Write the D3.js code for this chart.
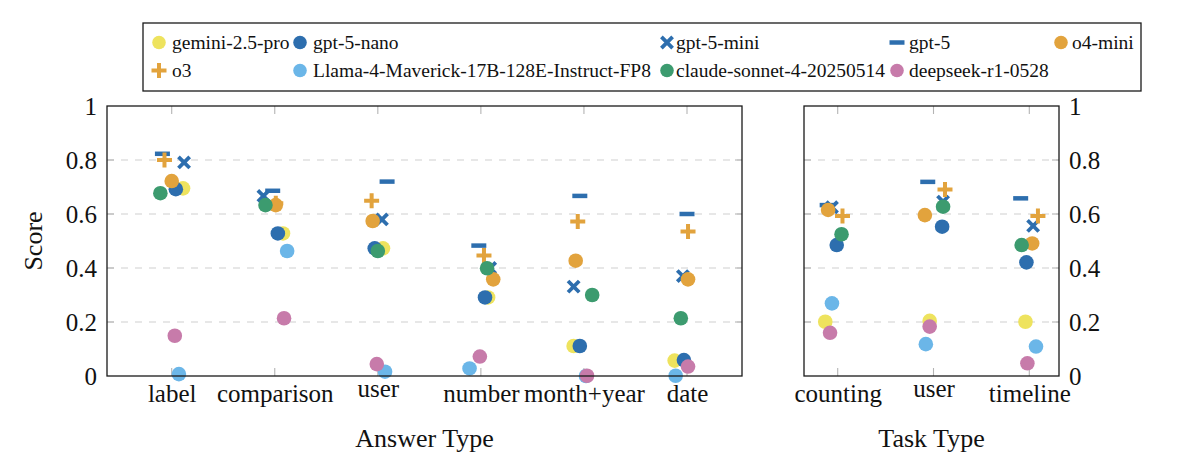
<!DOCTYPE html>
<html><head><meta charset="utf-8">
<script src="https://cdn.jsdelivr.net/npm/d3@7/dist/d3.min.js"></script>
<style>body{margin:0;background:#fff} svg{display:block}</style>
</head><body>
<svg id="c" width="1200" height="470"></svg>
<script>
// ---------------- DATA ----------------
const answerCats = ["label", "comparison", "user", "number", "month+year", "date"];
const taskCats = ["counting", "user", "timeline"];
const modelNames = ["gemini-2.5-pro", "gpt-5-nano", "gpt-5-mini", "gpt-5", "o4-mini",
  "o3", "Llama-4-Maverick-17B-128E-Instruct-FP8", "claude-sonnet-4-20250514", "deepseek-r1-0528"];
const yTickVals = [0, 0.2, 0.4, 0.6, 0.8, 1];
const yTickLabels = ["0", "0.2", "0.4", "0.6", "0.8", "1"];

// Scores per answer type (label, comparison, user, number, month+year, date)
const geminiAnswer   = [0.695, 0.528, 0.473, 0.291, 0.111, 0.057];
const nanoAnswer     = [0.692, 0.528, 0.473, 0.291, 0.111, 0.059];
const miniAnswer     = [0.791, 0.667, 0.580, 0.400, 0.331, 0.370];
const gpt5Answer     = [0.823, 0.686, 0.720, 0.483, 0.667, 0.600];
const o4miniAnswer   = [0.722, 0.633, 0.574, 0.358, 0.427, 0.358];
const o3Answer       = [0.800, 0.640, 0.649, 0.446, 0.572, 0.535];
const llamaAnswer    = [0.007, 0.463, 0.016, 0.028, 0.000, 0.001];
const claudeAnswer   = [0.677, 0.633, 0.463, 0.399, 0.300, 0.214];
const deepseekAnswer = [0.149, 0.214, 0.044, 0.072, 0.001, 0.035];

// Scores per task type (counting, user, timeline)
const geminiTask   = [0.201, 0.204, 0.201];
const nanoTask     = [0.485, 0.553, 0.421];
const miniTask     = [0.625, 0.646, 0.556];
const gpt5Task     = [0.633, 0.719, 0.658];
const o4miniTask   = [0.615, 0.596, 0.491];
const o3Task       = [0.593, 0.691, 0.593];
const llamaTask    = [0.269, 0.118, 0.109];
const claudeTask   = [0.525, 0.627, 0.485];
const deepseekTask = [0.160, 0.183, 0.047];

// Horizontal jitter, in category units
const geminiAnswerJit   = [0.11, 0.08, 0.05, 0.07, -0.10, -0.12];
const nanoAnswerJit     = [0.04, 0.03, -0.03, 0.04, -0.04, -0.03];
const miniAnswerJit     = [0.12, -0.11, 0.04, 0.09, -0.10, -0.04];
const gpt5AnswerJit     = [-0.09, -0.02, 0.09, -0.02, -0.04, 0.00];
const o4miniAnswerJit   = [0.00, 0.01, -0.05, 0.12, -0.08, 0.01];
const o3AnswerJit       = [-0.07, 0.01, -0.06, 0.03, -0.06, 0.01];
const llamaAnswerJit    = [0.07, 0.12, 0.07, -0.11, 0.02, -0.11];
const claudeAnswerJit   = [-0.11, -0.09, 0.00, 0.06, 0.08, -0.06];
const deepseekAnswerJit = [0.03, 0.09, -0.01, -0.01, 0.03, 0.01];

const geminiTaskJit   = [-0.13, -0.04, -0.04];
const nanoTaskJit     = [-0.01, 0.09, -0.03];
const miniTaskJit     = [-0.06, 0.10, 0.04];
const gpt5TaskJit     = [-0.11, -0.06, -0.09];
const o4miniTaskJit   = [-0.10, -0.09, 0.03];
const o3TaskJit       = [0.05, 0.12, 0.09];
const llamaTaskJit    = [-0.06, -0.08, 0.07];
const claudeTaskJit   = [0.04, 0.10, -0.08];
const deepseekTaskJit = [-0.08, -0.04, -0.02];

// ---------------- STYLE ----------------
const BLUE = "#2D6EAE", ORANGE = "#E2A33D";
const styles = [
  {shape: "circle", color: "#EEE35E"},
  {shape: "circle", color: BLUE},
  {shape: "x", color: BLUE},
  {shape: "dash", color: BLUE},
  {shape: "circle", color: ORANGE},
  {shape: "plus", color: ORANGE},
  {shape: "circle", color: "#6BB6E8"},
  {shape: "circle", color: "#3C9B6F"},
  {shape: "circle", color: "#C77BAA"}
];
const answerSeries = [geminiAnswer, nanoAnswer, miniAnswer, gpt5Answer, o4miniAnswer, o3Answer, llamaAnswer, claudeAnswer, deepseekAnswer];
const answerJit = [geminiAnswerJit, nanoAnswerJit, miniAnswerJit, gpt5AnswerJit, o4miniAnswerJit, o3AnswerJit, llamaAnswerJit, claudeAnswerJit, deepseekAnswerJit];
const taskSeries = [geminiTask, nanoTask, miniTask, gpt5Task, o4miniTask, o3Task, llamaTask, claudeTask, deepseekTask];
const taskJit = [geminiTaskJit, nanoTaskJit, miniTaskJit, gpt5TaskJit, o4miniTaskJit, o3TaskJit, llamaTaskJit, claudeTaskJit, deepseekTaskJit];

const FONT = "'Liberation Serif', 'Times New Roman', serif";
const TICK_PX = 25;
const svg = d3.select("#c");
const ctx = document.createElement("canvas").getContext("2d");
function inkAscent(t, px) { ctx.font = px + "px 'Liberation Serif'"; return ctx.measureText(t).actualBoundingBoxAscent; }

const PLOT_TOP = 106, PLOT_BOT = 376;
const y = d3.scaleLinear().domain([0, 1]).range([PLOT_BOT, PLOT_TOP]);

function drawMarker(g, shape, color, cx, cy) {
  if (shape === "circle") {
    g.append("circle").attr("cx", cx).attr("cy", cy).attr("r", 7.3).attr("fill", color);
  } else if (shape === "plus") {
    g.append("path").attr("d", `M${cx-7.5},${cy}H${cx+7.5}M${cx},${cy-7.5}V${cy+7.5}`)
      .attr("stroke", color).attr("stroke-width", 4).attr("fill", "none");
  } else if (shape === "x") {
    const s = 5.6;
    g.append("path").attr("d", `M${cx-s},${cy-s}L${cx+s},${cy+s}M${cx-s},${cy+s}L${cx+s},${cy-s}`)
      .attr("stroke", color).attr("stroke-width", 3.8).attr("fill", "none");
  } else if (shape === "dash") {
    g.append("path").attr("d", `M${cx-7.5},${cy}H${cx+7.5}`)
      .attr("stroke", color).attr("stroke-width", 4.5).attr("fill", "none");
  }
}

function panel(opts) {
  const {x0, x1, first, last, cats, series, jit, ySide, title} = opts;
  const x = d3.scaleLinear().domain([0, cats.length - 1]).range([first, last]);
  const g = svg.append("g");

  // dashed grid
  g.append("g").selectAll("line").data(yTickVals.filter(v => v > 0 && v < 1)).join("line")
    .attr("x1", x0).attr("x2", x1).attr("y1", d => y(d)).attr("y2", d => y(d))
    .attr("stroke", "#cfcfcf").attr("stroke-width", 1.1).attr("stroke-dasharray", "7,7");
  // y tick marks inside both edges
  const tk = g.append("g").attr("stroke", "#b4b4b4").attr("stroke-width", 1.1);
  yTickVals.filter(v => v > 0 && v < 1).forEach(v => {
    tk.append("line").attr("x1", x0).attr("x2", x0 + 7).attr("y1", y(v)).attr("y2", y(v));
    tk.append("line").attr("x1", x1 - 7).attr("x2", x1).attr("y1", y(v)).attr("y2", y(v));
  });
  // x tick marks (top & bottom)
  d3.range(cats.length).forEach(i => {
    tk.append("line").attr("x1", x(i)).attr("x2", x(i)).attr("y1", PLOT_TOP).attr("y2", PLOT_TOP + 8);
    tk.append("line").attr("x1", x(i)).attr("x2", x(i)).attr("y1", PLOT_BOT - 8).attr("y2", PLOT_BOT);
  });

  // marks
  const mg = g.append("g");
  series.forEach((vals, s) => {
    vals.forEach((v, i) => drawMarker(mg, styles[s].shape, styles[s].color, x(i + jit[s][i]), y(v)));
  });

  // frame
  g.append("rect").attr("x", x0).attr("y", PLOT_TOP).attr("width", x1 - x0).attr("height", PLOT_BOT - PLOT_TOP)
    .attr("fill", "none").attr("stroke", "#1a1a1a").attr("stroke-width", 1.3);

  // y axis labels
  const yAxis = (ySide === "left" ? d3.axisLeft(y) : d3.axisRight(y))
    .tickValues(yTickVals).tickFormat((d, i) => yTickLabels[i]).tickSize(0).tickPadding(10);
  const ya = svg.append("g").attr("transform", `translate(${ySide === "left" ? x0 : x1},0)`).call(yAxis);
  ya.select(".domain").remove();
  ya.selectAll("text").attr("font-family", FONT).attr("font-size", TICK_PX).attr("fill", "#111");

  // x axis labels (ink tops aligned, like TeX boxes anchored north)
  const xAxis = d3.axisBottom(x).tickValues(d3.range(cats.length)).tickFormat(i => cats[i]).tickSize(0);
  const xa = svg.append("g").attr("transform", `translate(0,${PLOT_BOT})`).call(xAxis);
  xa.select(".domain").remove();
  xa.selectAll("text").attr("font-family", FONT).attr("font-size", TICK_PX).attr("fill", "#111")
    .attr("dy", null).attr("y", (d) => 9 + inkAscent(cats[d], TICK_PX));

  // axis title
  svg.append("text").attr("x", (x0 + x1) / 2).attr("y", 447).attr("text-anchor", "middle")
    .attr("font-family", FONT).attr("font-size", 26).attr("fill", "#111").text(title);
}

panel({x0: 107, x1: 742, first: 171.7, last: 687, cats: answerCats, series: answerSeries, jit: answerJit, ySide: "left", title: "Answer Type"});
panel({x0: 804, x1: 1059, first: 837.7, last: 1029.3, cats: taskCats, series: taskSeries, jit: taskJit, ySide: "right", title: "Task Type"});

// y title
svg.append("text").attr("transform", "translate(42,241) rotate(-90)").attr("text-anchor", "middle")
  .attr("font-family", FONT).attr("font-size", 26).attr("fill", "#111").text("Score");

// legend
const LEG_X0 = 143, LEG_X1 = 1141, LEG_Y0 = 23, LEG_Y1 = 91;
const legMarkerX = [159, 300, 667, 897, 1061];
const legTextX = [172, 313, 676, 909, 1072];
const legRowY = [42.5, 70.5];
const lg = svg.append("g");
lg.append("rect").attr("x", LEG_X0).attr("y", LEG_Y0).attr("width", LEG_X1 - LEG_X0).attr("height", LEG_Y1 - LEG_Y0)
  .attr("fill", "#fff").attr("stroke", "#1a1a1a").attr("stroke-width", 1.3);
modelNames.forEach((name, k) => {
  const col = k % 5, row = Math.floor(k / 5);
  const cy = legRowY[row];
  if (styles[k].shape === "circle") {
    lg.append("circle").attr("cx", legMarkerX[col]).attr("cy", cy).attr("r", 6.8).attr("fill", styles[k].color);
  } else {
    drawMarker(lg, styles[k].shape, styles[k].color, legMarkerX[col], cy);
  }
  lg.append("text").attr("x", legTextX[col]).attr("y", cy).attr("dy", "0.33em")
    .attr("font-family", FONT).attr("font-size", 19.5).attr("fill", "#111").text(name);
});
</script>
</body></html>
